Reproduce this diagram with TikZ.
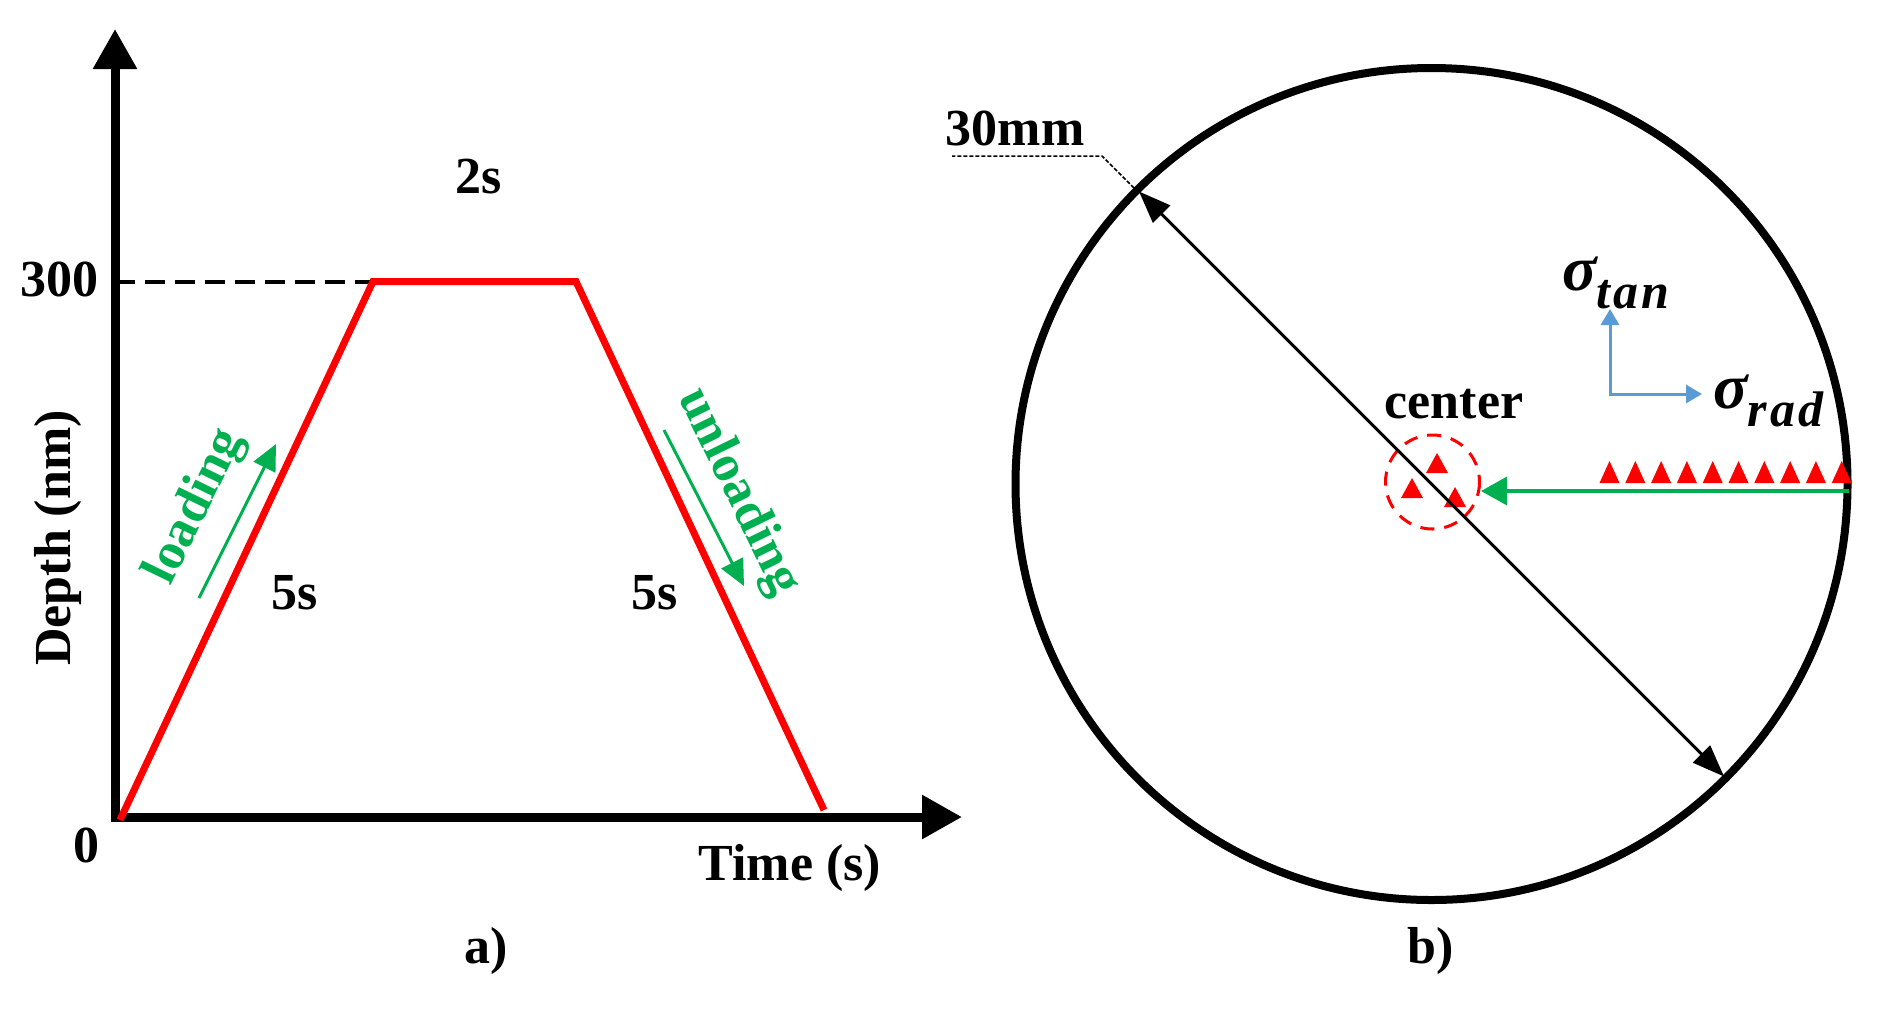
\documentclass[tikz,border=0pt]{standalone}
\usepackage[no-math]{fontspec}
\setmainfont{Liberation Serif}
\usetikzlibrary{arrows.meta}
\definecolor{rd}{RGB}{255,0,0}
\definecolor{gr}{RGB}{0,176,80}
\definecolor{bl}{RGB}{91,155,213}
\tikzset{
  lbl/.style={font=\fontsize{26}{30}\selectfont\bfseries, inner sep=0pt},
  sig/.style={inner sep=0pt, font=\bfseries\itshape},
  axisline/.style={line width=4.5pt, {Triangle[length=20pt,width=21pt]}-{Triangle[length=20pt,width=21pt]}},
  redline/.style={rd, line width=3.5pt},
  dashline/.style={line width=2pt, dash pattern=on 10pt off 5pt},
  garrow/.style={gr, line width=1.5pt, -{Triangle[length=13pt,width=12pt]}},
  diam/.style={line width=1.5pt, {Triangle[length=16pt,width=12pt]}-{Triangle[length=16pt,width=12pt]}},
  leader/.style={line width=0.75pt, dash pattern=on 2pt off 1pt},
  barrow/.style={bl, line width=1.5pt, {Triangle[length=8pt,width=9pt]}-{Triangle[length=8pt,width=9pt]}},
  tri/.style={rd},
}
\newcommand{\sigmalabel}[1]{{\fontsize{32}{34}\selectfont σ}\raisebox{-9pt}{\fontsize{25}{27}\selectfont\addfontfeatures{LetterSpace=6}#1}}
\begin{document}
\begin{tikzpicture}[x=0.5pt,y=-0.5pt]
\useasboundingbox (0,0) rectangle (1894,1008);
% ---------------- panel a ----------------
\coordinate (ytip) at (115,29);
\coordinate (O) at (115,817);
\coordinate (xtip) at (962,817);
\draw[axisline] (ytip) -- (O) -- (xtip);
\coordinate (p0) at (120,820);
\coordinate (p1) at (373,281.5);
\coordinate (p2) at (576,281.5);
\coordinate (p3) at (824,810);
\coordinate (d0) at (115,281.5);
\draw[dashline] (d0) -- (p1);
\draw[redline] (p0) -- (p1) -- (p2) -- (p3);
\node[lbl, anchor=base east] (n300) at (99,296) {300};
\node[lbl, anchor=base] (n0) at (86,862) {0};
\node[lbl, anchor=base] (t2s) at (479,193) {2s};
\node[lbl, anchor=base] (t5a) at (295,609) {5s};
\node[lbl, anchor=base] (t5b) at (655,609) {5s};
\node[lbl, anchor=base] (time) at (790,880) {Time (s)};
\node[lbl, rotate=90] (depth) at (58,538) {Depth (nm)};
\node[lbl, anchor=base] (la) at (486,963) {a)};
\coordinate (la0) at (199,598);
\coordinate (la1) at (276,444);
\draw[garrow] (la0) -- (la1);
\node[lbl, gr, rotate=64] (load) at (196,507) {loading};
\coordinate (ul0) at (664,430);
\coordinate (ul1) at (744,586);
\draw[garrow] (ul0) -- (ul1);
\node[lbl, gr, rotate=-64] (unload) at (738,492) {unloading};
% ---------------- panel b ----------------
\coordinate (C) at (1431.5,484);
\draw[line width=4pt] (C) circle[radius=416];
\foreach \k in {0,...,9}{
  \fill[tri] ({1599.5+25.8*\k},483) -- ++(20,0) -- ++(-10,-22) -- cycle;
}
\coordinate (gs) at (1849,491);
\coordinate (ge) at (1481,491);
\draw[gr, line width=1.75pt, -{Triangle[length=13pt,width=14pt]}] (gs) -- (ge);
\draw[rd, line width=1.5pt, dash pattern=on 7pt off 5pt] (1432.5,482) circle[radius=47];
\fill[tri] (1426,473) -- (1448,473) -- (1437,453) -- cycle;
\fill[tri] (1401,498) -- (1423,498) -- (1412,478) -- cycle;
\fill[tri] (1444,507) -- (1466,507) -- (1455,487) -- cycle;
\coordinate (D1) at (1139,191.5);
\coordinate (D2) at (1724,776.5);
\draw[diam] (D1) -- (D2);
\coordinate (L0) at (1134,188);
\coordinate (L1) at (1102,156);
\coordinate (L2) at (952,156);
\draw[leader] (L0) -- (L1) -- (L2);
\node[lbl, anchor=base] (mm) at (1015,145) {30mm};
\node[lbl, anchor=base] (cen) at (1454,418) {center};
\coordinate (bc) at (1610,394);
\coordinate (bu) at (1610,309);
\coordinate (br) at (1702,394);
\draw[barrow] (bu) -- (bc) -- (br);
\node[sig, anchor=base west] (stan) at (1562,290) {\sigmalabel{tan}};
\node[sig, anchor=base west] (srad) at (1713,408) {\sigmalabel{rad}};
\node[lbl, anchor=base] (lb) at (1431,963) {b)};
\end{tikzpicture}
\end{document}
